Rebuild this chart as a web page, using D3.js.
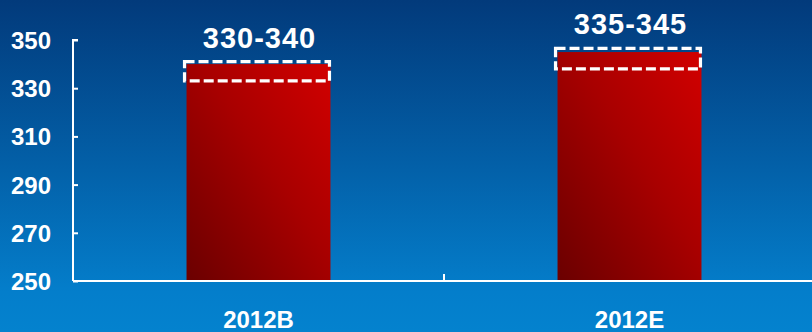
<!DOCTYPE html>
<html lang="en">
<head>
  <meta charset="UTF-8">
  <title>2012B vs 2012E</title>
  <style>
    html, body { margin: 0; padding: 0; overflow: hidden; }
    svg { display: block; font-family: "Liberation Sans", Arial, sans-serif; font-weight: bold; }
  </style>
</head>
<body>
  <script src="https://cdn.jsdelivr.net/npm/d3@7"></script>
  <script>
    // data
    const categories = ['2012B', '2012E'];
    const barValues = [340, 345];
    const rangeLabels = ['330-340', '335-345'];
    const boxLow = [333, 338];
    const boxHigh = [341, 346.5];
    const yTicks = [250, 270, 290, 310, 330, 350];

    const width = 812, height = 332;

    const svg = d3.select('body').append('svg')
      .attr('width', width)
      .attr('height', height);

    const defs = svg.append('defs');
    const bg = defs.append('linearGradient')
      .attr('id', 'bg').attr('x1', 0).attr('y1', 0).attr('x2', 0).attr('y2', 1);
    bg.append('stop').attr('offset', '0%').attr('stop-color', '#023a7b');
    bg.append('stop').attr('offset', '50%').attr('stop-color', '#0360a8');
    bg.append('stop').attr('offset', '88%').attr('stop-color', '#047ecb');
    bg.append('stop').attr('offset', '100%').attr('stop-color', '#0482ce');

    const red = defs.append('linearGradient')
      .attr('id', 'red').attr('x1', 0).attr('y1', 1).attr('x2', 1).attr('y2', 0);
    red.append('stop').attr('offset', '0%').attr('stop-color', '#6a0000');
    red.append('stop').attr('offset', '55%').attr('stop-color', '#a80000');
    red.append('stop').attr('offset', '100%').attr('stop-color', '#d20000');

    svg.append('rect').attr('width', width).attr('height', height).attr('fill', 'url(#bg)');

    const x = d3.scaleBand()
      .domain(categories)
      .range([73, 815])
      .paddingInner(0.612)
      .paddingOuter(0.306);

    const y = d3.scaleLinear()
      .domain([250, 350])
      .range([281, 40]);

    // bars
    svg.selectAll('rect.bar')
      .data(categories)
      .enter().append('rect')
      .attr('class', 'bar')
      .attr('x', d => x(d))
      .attr('y', (d, i) => y(barValues[i]))
      .attr('width', x.bandwidth())
      .attr('height', (d, i) => y(250) - y(barValues[i]))
      .attr('fill', 'url(#red)');

    // dashed range boxes
    svg.selectAll('rect.range')
      .data(categories)
      .enter().append('rect')
      .attr('class', 'range')
      .attr('x', d => x(d) - 2)
      .attr('y', (d, i) => y(boxHigh[i]))
      .attr('width', x.bandwidth() + 1)
      .attr('height', (d, i) => y(boxLow[i]) - y(boxHigh[i]))
      .attr('fill', 'none')
      .attr('stroke', '#fff')
      .attr('stroke-width', 3.2)
      .attr('stroke-dasharray', '10,4');

    // range labels
    svg.selectAll('text.range-label')
      .data(categories)
      .enter().append('text')
      .attr('class', 'range-label')
      .attr('x', d => x(d) + x.bandwidth() / 2 + 1)
      .attr('y', (d, i) => y(boxHigh[i]) - 14)
      .attr('text-anchor', 'middle')
      .attr('fill', '#fff')
      .attr('font-size', 29)
      .attr('letter-spacing', 1)
      .text((d, i) => rangeLabels[i]);

    // y axis
    const yAxis = svg.append('g')
      .attr('transform', 'translate(73,0)')
      .call(d3.axisRight(y).tickValues(yTicks).tickSize(5).tickFormat(''));
    yAxis.select('.domain').attr('d', `M5,${y(350)}H0V${y(250)}`);
    yAxis.selectAll('path, line').attr('stroke', '#fff').attr('stroke-width', 2);

    svg.selectAll('text.ytick')
      .data(yTicks)
      .enter().append('text')
      .attr('class', 'ytick')
      .attr('x', 51)
      .attr('y', d => y(d) + 9)
      .attr('text-anchor', 'end')
      .attr('fill', '#fff')
      .attr('font-size', 24)
      .text(d => d);

    // x axis
    const xg = svg.append('g').attr('transform', `translate(0,${y(250)})`);
    xg.append('line')
      .attr('x1', 73).attr('x2', width)
      .attr('stroke', '#fff').attr('stroke-width', 2);
    const mid = (x(categories[0]) + x.bandwidth() + x(categories[1])) / 2;
    xg.append('line')
      .attr('x1', mid).attr('x2', mid).attr('y1', 0).attr('y2', -7)
      .attr('stroke', '#fff').attr('stroke-width', 2);

    svg.selectAll('text.xlabel')
      .data(categories)
      .enter().append('text')
      .attr('class', 'xlabel')
      .attr('x', d => x(d) + x.bandwidth() / 2)
      .attr('y', 328)
      .attr('text-anchor', 'middle')
      .attr('fill', '#fff')
      .attr('font-size', 24)
      .text(d => d);
  </script>
</body>
</html>
